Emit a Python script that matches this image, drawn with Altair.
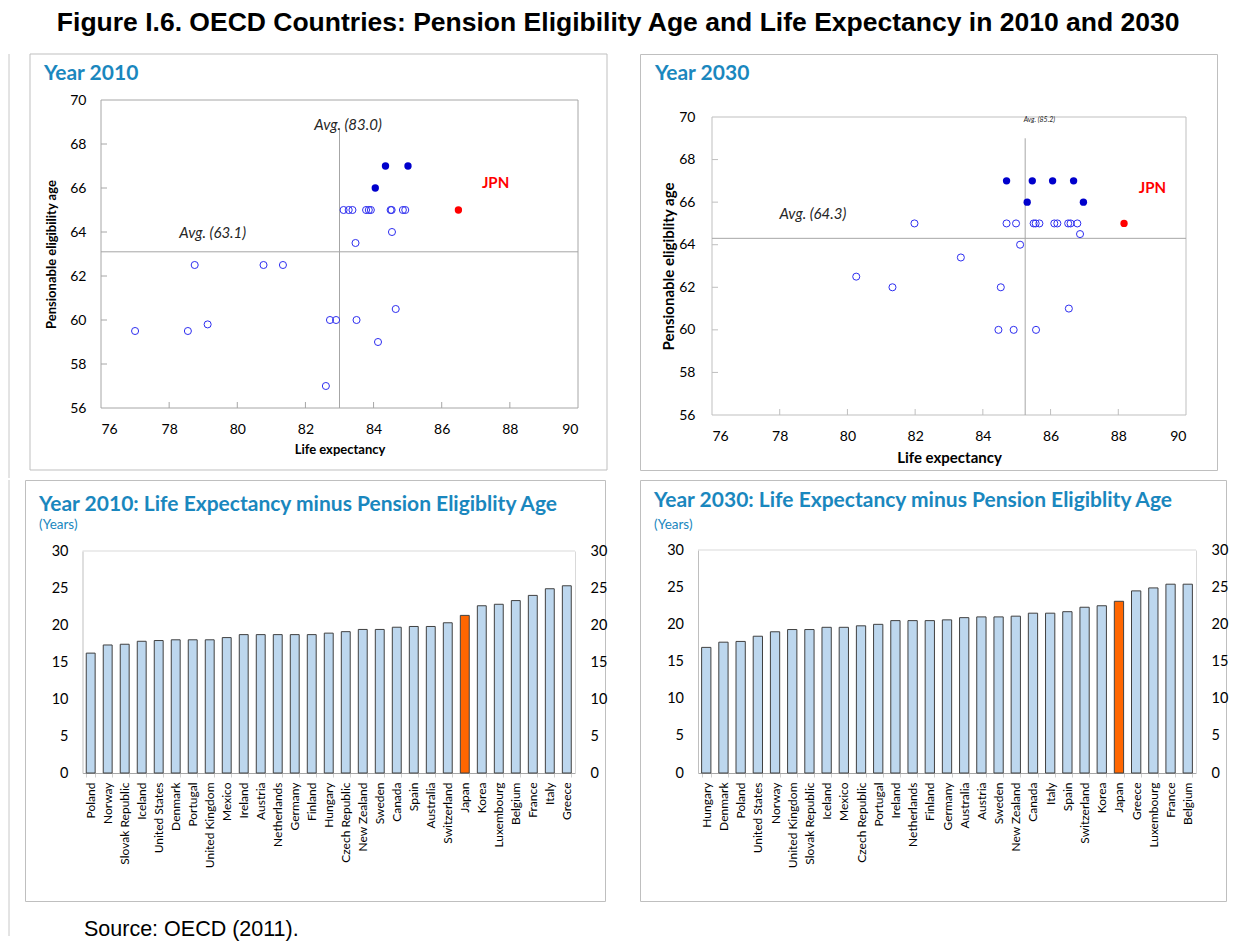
import altair as alt
import pandas as pd

FONT = "Lato"
TITLE_BLUE = "#1A87BE"

# ---------------- data: 2010 scatter ----------------
le10_open = [77.0, 78.55, 78.75, 79.13, 80.77, 81.34, 82.6, 82.72, 82.9, 83.12, 83.27, 83.38,
             83.47, 83.5, 83.78, 83.86, 83.92, 84.13, 84.5, 84.53, 84.54, 84.65, 84.86, 84.93]
pa10_open = [59.5, 59.5, 62.5, 59.8, 62.5, 62.5, 57.0, 60.0, 60.0, 65.0, 65.0, 65.0,
             63.5, 60.0, 65.0, 65.0, 65.0, 59.0, 65.0, 65.0, 64.0, 60.5, 65.0, 65.0]
le10_fill = [84.35, 85.01, 84.05]
pa10_fill = [67.0, 67.0, 66.0]
le10_jpn = [86.49]
pa10_jpn = [65.0]
avg10_le = [83.0]
avg10_pa = [63.1]

# ---------------- data: 2030 scatter ----------------
le30_open = [80.26, 81.33, 81.98, 83.35, 84.46, 84.53, 84.70, 84.91, 84.98, 85.10, 85.50,
             85.56, 85.57, 85.67, 86.11, 86.20, 86.54, 86.52, 86.59, 86.79, 86.87]
pa30_open = [62.5, 62.0, 65.0, 63.4, 60.0, 62.0, 65.0, 60.0, 65.0, 64.0, 65.0,
             65.0, 60.0, 65.0, 65.0, 65.0, 61.0, 65.0, 65.0, 65.0, 64.5]
le30_fill = [84.70, 85.46, 86.06, 86.68, 85.31, 86.97]
pa30_fill = [67.0, 67.0, 67.0, 67.0, 66.0, 66.0]
le30_jpn = [88.17]
pa30_jpn = [65.0]
avg30_le = [85.25]
avg30_pa = [64.3]

# axis tick values of the scatter panels
x_ticks = [76, 78, 80, 82, 84, 86, 88, 90]
y_ticks = [56, 58, 60, 62, 64, 66, 68, 70]

# ---------------- data: bar charts ----------------
countries10 = ["Poland", "Norway", "Slovak Republic", "Iceland", "United States", "Denmark",
               "Portugal", "United Kingdom", "Mexico", "Ireland", "Austria", "Netherlands",
               "Germany", "Finland", "Hungary", "Czech Republic", "New Zealand", "Sweden",
               "Canada", "Spain", "Australia", "Switzerland", "Japan", "Korea", "Luxembourg",
               "Belgium", "France", "Italy", "Greece"]
gap10 = [16.2, 17.3, 17.4, 17.8, 17.9, 18.0, 18.0, 18.0, 18.3, 18.7, 18.7, 18.7,
         18.7, 18.7, 18.9, 19.1, 19.4, 19.4, 19.7, 19.8, 19.8, 20.3, 21.3, 22.6, 22.8,
         23.3, 24.0, 24.9, 25.3]

countries30 = ["Hungary", "Denmark", "Poland", "United States", "Norway", "United Kingdom",
               "Slovak Republic", "Iceland", "Mexico", "Czech Republic", "Portugal", "Ireland",
               "Netherlands", "Finland", "Germany", "Australia", "Austria", "Sweden",
               "New Zealand", "Canada", "Italy", "Spain", "Switzerland", "Korea", "Japan",
               "Greece", "Luxembourg", "France", "Belgium"]
gap30 = [16.9, 17.6, 17.7, 18.4, 19.0, 19.3, 19.3, 19.6, 19.6, 19.8, 20.0, 20.5,
         20.5, 20.5, 20.6, 20.9, 21.0, 21.0, 21.1, 21.5, 21.5, 21.7, 22.3, 22.5, 23.1,
         24.5, 24.9, 25.4, 25.4]

FRAME = "#BFBFBF"
OUTER_X = -16  # page-level left border line, relative to the left panels


def pixel_text(txt, x, y, font=FONT, **kw):
    return alt.Chart(pd.DataFrame({"t": [txt]})).mark_text(
        align="left", baseline="alphabetic", font=font, **kw
    ).encode(x=alt.value(x), y=alt.value(y), text="t:N")


def frame_rect(x0, x1, y0, y1):
    return alt.Chart(pd.DataFrame({"a": [0]})).mark_rect(
        fillOpacity=0, stroke=FRAME, strokeWidth=1
    ).encode(x=alt.value(x0), x2=alt.value(x1), y=alt.value(y0), y2=alt.value(y1))


def outer_line(y0, y1):
    return alt.Chart(pd.DataFrame({"a": [0]})).mark_rule(color="#C8C8C8", strokeWidth=1).encode(
        x=alt.value(OUTER_X), y=alt.value(y0), y2=alt.value(y1))


def scatter_panel(W, H, px, py, o_le, o_pa, f_le, f_pa, j_le, j_pa, a_le, a_pa, vtop,
                  avg_labels, jpn_xy, title, title_x, ytitle, at_size, plot_color,
                  ylab_pad, ttl_pad_x, frame=None, outer=None):
    xs = alt.Scale(domain=[76, 90], range=[px[0], px[1]], nice=False, zero=False)
    ys = alt.Scale(domain=[56, 70], range=[py[1], py[0]], nice=False, zero=False)
    xax = alt.Axis(orient="bottom", offset=-(H - py[1]), values=x_ticks,
                   domain=False, ticks=False, grid=False, labelPadding=14,
                   labelFontSize=14, title="Life expectancy", titleFontSize=at_size,
                   titleFontWeight="bold", titlePadding=7)
    yax = alt.Axis(orient="left", offset=-px[0], values=y_ticks,
                   domain=False, ticks=False, grid=False, labelPadding=ylab_pad,
                   labelFontSize=14, title=ytitle, titleFontSize=at_size,
                   titleFontWeight="bold", titlePadding=ttl_pad_x)

    def X(f="le"):
        return alt.X(f + ":Q", scale=xs, axis=xax)

    def Y(f="pa"):
        return alt.Y(f + ":Q", scale=ys, axis=yax)

    border = alt.Chart(pd.DataFrame({"le": [76], "le2": [90], "pa": [56], "pa2": [70]})).mark_rect(
        fillOpacity=0, stroke=plot_color, strokeWidth=1
    ).encode(x=X(), x2="le2", y=Y(), y2="pa2")

    # small inward tick marks along the bottom and left edges
    tick_len_x = 6.0 * 14 / (px[1] - px[0])
    tick_len_y = 6.0 * 14 / (py[1] - py[0])
    xt = alt.Chart(pd.DataFrame({"le": x_ticks[1:-1]})).transform_calculate(
        pa="56", pa2=str(56 + tick_len_y)
    ).mark_rule(color=plot_color, strokeWidth=1).encode(x=X(), y=Y(), y2="pa2:Q")
    yt = alt.Chart(pd.DataFrame({"pa": y_ticks[1:-1]})).transform_calculate(
        le="76", le2=str(76 + tick_len_x)
    ).mark_rule(color=plot_color, strokeWidth=1).encode(x=X(), x2="le2:Q", y=Y())

    rules_df = pd.DataFrame({
        "le": [76, a_le[0]], "le2": [90, a_le[0]],
        "pa": [a_pa[0], 56], "pa2": [a_pa[0], vtop],
    })
    rules = alt.Chart(rules_df).mark_rule(color="#A6A6A6", strokeWidth=1).encode(
        x=X(), x2="le2", y=Y(), y2="pa2")

    opened = alt.Chart(pd.DataFrame({"le": o_le, "pa": o_pa})).mark_point(
        shape="circle", filled=False, color="#2E2EF0", size=50, strokeWidth=1, opacity=1
    ).encode(x=X(), y=Y())
    filled = alt.Chart(pd.DataFrame({"le": f_le, "pa": f_pa})).mark_circle(
        color="#0000CC", size=54, opacity=1).encode(x=X(), y=Y())
    jpn = alt.Chart(pd.DataFrame({"le": j_le, "pa": j_pa})).mark_circle(
        color="#FF0000", size=54, opacity=1).encode(x=X(), y=Y())

    layers = [border, xt, yt, rules, opened, filled, jpn]
    for (lx, ly, txt, fs) in avg_labels:
        layers.append(alt.Chart(pd.DataFrame({"le": [lx], "pa": [ly], "t": [txt]})).mark_text(
            font=FONT, fontStyle="italic", fontSize=fs, color="#262626"
        ).encode(x=X(), y=Y(), text="t:N"))
    layers.append(alt.Chart(pd.DataFrame({"le": [jpn_xy[0]], "pa": [jpn_xy[1]], "t": ["JPN"]})).mark_text(
        font=FONT, fontWeight="bold", fontSize=15, color="#FF0000"
    ).encode(x=X(), y=Y(), text="t:N"))
    layers.append(pixel_text(title, title_x, 26, fontSize=21, fontWeight="bold", color=TITLE_BLUE))
    if outer:
        layers.append(outer_line(*outer))
    if frame:
        layers.insert(0, frame_rect(*frame))
        return alt.layer(*layers).properties(width=W, height=H,
                                             view=alt.ViewBackground(stroke="transparent"))
    return alt.layer(*layers).properties(width=W, height=H)


def bar_panel(W, H, px, py, countries, vals, title, title_xy, sub_xy, pad_outer, pad_inner,
              source=None, outer=None):
    df = pd.DataFrame({
        "country": countries, "gap": vals,
        "kind": ["Japan" if c == "Japan" else "Other" for c in countries],
    })
    xs = alt.Scale(domain=countries, range=[px[0], px[1]], paddingInner=pad_inner,
                   paddingOuter=pad_outer)
    ys = alt.Scale(domain=[0, 30], range=[py[1], py[0]], nice=False, zero=True)
    xax = alt.Axis(orient="bottom", offset=-(H - py[1]), labelAngle=270, labelFontSize=12,
                   labelPadding=5, domainColor="#A6A6A6", ticks=True, tickBand="extent",
                   tickSize=4, tickColor="#D0D0D0", title=None, grid=False)
    yl = alt.Axis(orient="left", offset=-px[0], values=list(range(0, 31, 5)), labelFontSize=14.5,
                  labelPadding=14.5, domainColor="#BFBFBF", ticks=False, title=None, grid=False)
    yr = alt.Axis(orient="right", offset=-(W - px[1]), values=list(range(0, 31, 5)),
                  labelFontSize=14.5, labelPadding=15, domainColor="#D9D9D9", ticks=False,
                  title=None, grid=False)
    bars = alt.Chart(df).mark_bar(stroke="#404040", strokeWidth=1).encode(
        x=alt.X("country:N", sort=countries, scale=xs, axis=xax),
        y=alt.Y("gap:Q", scale=ys, axis=yl),
        color=alt.Color("kind:N", scale=alt.Scale(domain=["Other", "Japan"],
                                                   range=["#BDD7EE", "#FF6600"]), legend=None),
    )
    top = alt.Chart(pd.DataFrame({"gap": [30]})).mark_rule(color="#D9D9D9").encode(
        y=alt.Y("gap:Q", scale=ys, axis=yr), x=alt.value(px[0]), x2=alt.value(px[1]))
    layers = [bars, top,
              pixel_text(title, title_xy[0], title_xy[1], fontSize=21, fontWeight="bold",
                         color=TITLE_BLUE),
              pixel_text("(Years)", sub_xy[0], sub_xy[1], fontSize=13.5, color=TITLE_BLUE)]
    if source:
        layers.append(pixel_text(source[0], source[1], source[2], font="Liberation Sans",
                                 fontSize=21.5, color="black"))
    if outer:
        layers.append(outer_line(*outer))
    return alt.layer(*layers).resolve_axis(y="independent").properties(width=W, height=H)


# top-left panel: view spans x 24..606 (page); its frame is drawn from 29
tl = scatter_panel(582, 416, (76, 553), (46, 354), le10_open, pa10_open, le10_fill, pa10_fill,
                   le10_jpn, pa10_jpn, avg10_le, avg10_pa, 68.7,
                   [(83.25, 68.85, "Avg. (83.0)", 15), (79.28, 63.95, "Avg. (63.1)", 15)],
                   (87.58, 66.22), "Year 2010", 19, "Pensionable eligibility age", 13, "#A6A6A6",
                   15, 11, frame=(5, 582, 0, 416), outer=(0, 424))
tr = scatter_panel(577, 416, (72, 546), (63, 361), le30_open, pa30_open, le30_fill, pa30_fill,
                   le30_jpn, pa30_jpn, avg30_le, avg30_pa, 69.0,
                   [(85.67, 69.86, "Avg. (85.2)", 7), (78.98, 65.42, "Avg. (64.3)", 15)],
                   (89.01, 66.68), "Year 2030", 15, "Pensionable eligiblity age", 15, "#BFBFBF",
                   17, 2)
bl = bar_panel(580, 421, (57.5, 550), (71, 293), countries10, gap10,
               "Year 2010: Life Expectancy minus Pension Eligiblity Age", (14, 31), (14, 49),
               0.22, 0.476, source=("Source: OECD (2011).", 59, 456), outer=(0, 456))
br = bar_panel(586, 421, (58, 556), (70, 293), countries30, gap30,
               "Year 2030: Life Expectancy minus Pension Eligiblity Age", (14, 27), (14, 48.5),
               0.21, 0.46)

row1 = alt.hconcat(tl, tr, spacing=31)
row2 = alt.hconcat(bl, br, spacing=25)

chart = alt.vconcat(
    row1, row2, spacing=0,
    title=alt.TitleParams(
        "Figure I.6. OECD Countries: Pension Eligibility Age and Life Expectancy in 2010 and 2030",
        font="Liberation Sans", fontSize=26.5, fontWeight="bold", color="black",
        anchor="middle", offset=17),
).properties(
    padding={"left": 0, "top": 1, "right": 2, "bottom": 2}
).configure_view(
    stroke=FRAME, strokeWidth=1
).configure_axis(
    labelFont=FONT, titleFont=FONT, labelColor="black", titleColor="black"
)

chart.save("out.html", embed_options={"renderer": "svg", "actions": False})
